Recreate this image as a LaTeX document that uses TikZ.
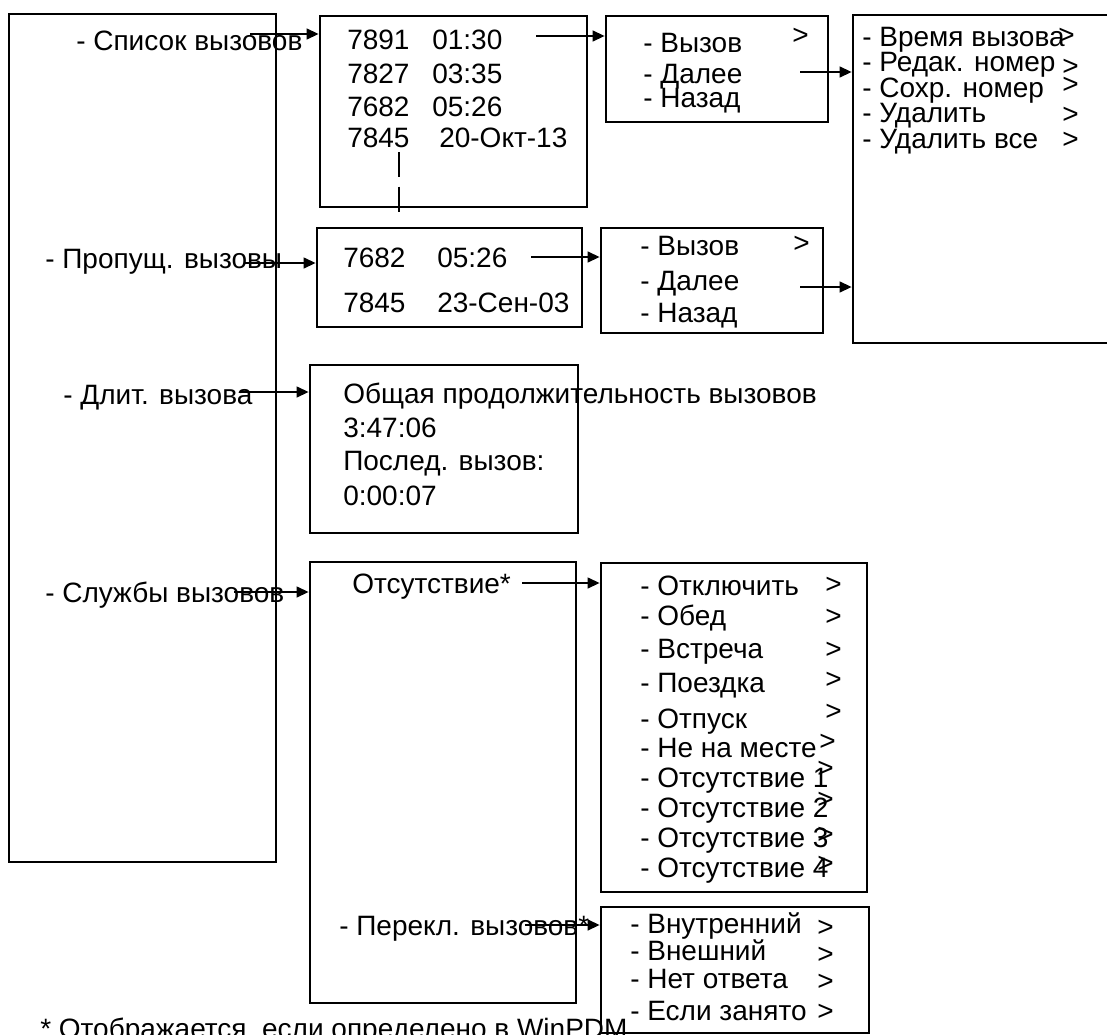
\documentclass[tikz,border=0pt]{standalone}
\usepackage{fontspec}
\setmainfont{Liberation Sans}
\usetikzlibrary{arrows.meta,fit}

\begin{document}
\begin{tikzpicture}[
  x=0.75pt, y=-0.75pt,
  box/.style={draw, line width=2pt, inner sep=0pt},
  txt/.style={anchor=base west, inner sep=0pt, font=\fontsize{21}{23}\selectfont},
  arr/.style={line width=1.6pt, -{Triangle[length=9pt,width=8pt]}},
  dashline/.style={line width=1.6pt, dash pattern=on 19pt off 7pt}
]
  \useasboundingbox (0,0) rectangle (1107,1035);

  \node[box, fit={(9,14) (276,862)}] (menu) {};
  \node[box, fit={(320,16) (587,207)}] (calls) {};
  \node[box, fit={(606,16) (828,122)}] (callopts) {};
  \node[box, fit={(853,15) (1118,343)}] (editopts) {};
  \node[box, fit={(317,228) (582,327)}] (missed) {};
  \node[box, fit={(601,228) (823,333)}] (missedopts) {};
  \node[box, fit={(310,365) (578,533)}] (duration) {};
  \node[box, fit={(310,562) (576,1003)}] (services) {};
  \node[box, fit={(601,563) (867,892)}] (absence) {};
  \node[box, fit={(601,907) (869,1033)}] (divert) {};

  \node[txt] (list) at (76,50) {- Список вызовов};
  \node[txt] (miss) at (45,268) {- Пропущ. вызовы};
  \node[txt] (dur) at (63,404) {- Длит. вызова};
  \node[txt] (serv) at (45,602) {- Службы вызовов};

  \node[txt] (n1) at (347,49) {7891};
  \node[txt] (t1) at (432,49) {01:30};
  \node[txt] (n2) at (347,83) {7827};
  \node[txt] (t2) at (432,83) {03:35};
  \node[txt] (n3) at (347,116) {7682};
  \node[txt] (t3) at (432,116) {05:26};
  \node[txt] (n4) at (347,147) {7845};
  \node[txt] (t4) at (439,147) {20-Окт-13};

  \node[txt] (call) at (643,52) {- Вызов};
  \node[txt] (callgt) at (792,44) {>};
  \node[txt] (next) at (643,83) {- Далее};
  \node[txt] (back) at (643,107) {- Назад};

  \node[txt] (e1) at (862,46) {- Время вызова};
  \node[txt] (e2) at (862,71) {- Редак. номер};
  \node[txt] (e3) at (862,97) {- Сохр. номер};
  \node[txt] (e4) at (862,122) {- Удалить};
  \node[txt] (e5) at (862,148) {- Удалить все};
  \node[txt] (e1gt) at (1058,44) {>};
  \node[txt] (e2gt) at (1062,75) {>};
  \node[txt] (e3gt) at (1062,93) {>};
  \node[txt] (e4gt) at (1062,123) {>};
  \node[txt] (e5gt) at (1062,148) {>};

  \node[txt] (m1) at (343,267) {7682};
  \node[txt] (mt1) at (437,267) {05:26};
  \node[txt] (m2) at (343,312) {7845};
  \node[txt] (mt2) at (437,312) {23-Сен-03};

  \node[txt] (mcall) at (640,255) {- Вызов};
  \node[txt] (mcallgt) at (793,252) {>};
  \node[txt] (mnext) at (640,290) {- Далее};
  \node[txt] (mback) at (640,322) {- Назад};

  \node[txt] (total) at (343,403) {Общая продолжительность вызовов};
  \node[txt] (totalv) at (343,437) {3:47:06};
  \node[txt] (last) at (343,470) {Послед. вызов:};
  \node[txt] (lastv) at (343,505) {0:00:07};

  \node[txt] (abs) at (352,593) {Отсутствие*};
  \node[txt] (fwd) at (339,935) {- Перекл. вызовов*};

  \node[txt] (a1) at (640,595) {- Отключить};
  \node[txt] (a2) at (640,625) {- Обед};
  \node[txt] (a3) at (640,658) {- Встреча};
  \node[txt] (a4) at (640,692) {- Поездка};
  \node[txt] (a5) at (640,728) {- Отпуск};
  \node[txt] (a6) at (640,757) {- Не на месте};
  \node[txt] (a7) at (640,787) {- Отсутствие 1};
  \node[txt] (a8) at (640,817) {- Отсутствие 2};
  \node[txt] (a9) at (640,847) {- Отсутствие 3};
  \node[txt] (a10) at (640,877) {- Отсутствие 4};
  \node[txt] (a1gt) at (825,593) {>};
  \node[txt] (a2gt) at (825,625) {>};
  \node[txt] (a3gt) at (825,658) {>};
  \node[txt] (a4gt) at (825,688) {>};
  \node[txt] (a5gt) at (825,720) {>};
  \node[txt] (a6gt) at (819,750) {>};
  \node[txt] (a7gt) at (817,777) {>};
  \node[txt] (a8gt) at (817,808) {>};
  \node[txt] (a9gt) at (817,843) {>};
  \node[txt] (a10gt) at (817,872) {>};

  \node[txt] (d1) at (630,933) {- Внутренний};
  \node[txt] (d2) at (630,960) {- Внешний};
  \node[txt] (d3) at (630,988) {- Нет ответа};
  \node[txt] (d4) at (630,1020) {- Если занято};
  \node[txt] (d1gt) at (817,936) {>};
  \node[txt] (d2gt) at (817,963) {>};
  \node[txt] (d3gt) at (817,990) {>};
  \node[txt] (d4gt) at (817,1020) {>};

  \node[txt] (note) at (40,1038) {* Отображается, если определено в WinPDM};

  \coordinate (s1) at (250,34);
  \coordinate (s2) at (536,36);
  \coordinate (s3) at (800,72);
  \coordinate (s4) at (245,263);
  \coordinate (s5) at (531,257);
  \coordinate (s6) at (800,287);
  \coordinate (s7) at (240,392);
  \coordinate (s8) at (234,592);
  \coordinate (s9) at (522,583);
  \coordinate (s10) at (525,925);
  \coordinate (dtop) at (399,152);
  \coordinate (dbot) at (399,212);

  \draw[arr] (s1) -- (s1 -| calls.west);
  \draw[arr] (s2) -- (s2 -| callopts.west);
  \draw[arr] (s3) -- (s3 -| editopts.west);
  \draw[arr] (s4) -- (s4 -| missed.west);
  \draw[arr] (s5) -- (s5 -| missedopts.west);
  \draw[arr] (s6) -- (s6 -| editopts.west);
  \draw[arr] (s7) -- (s7 -| duration.west);
  \draw[arr] (s8) -- (s8 -| services.west);
  \draw[arr] (s9) -- (s9 -| absence.west);
  \draw[arr] (s10) -- (s10 -| divert.west);
  \draw[dashline] (dtop) -- (dbot);
\end{tikzpicture}
\end{document}
